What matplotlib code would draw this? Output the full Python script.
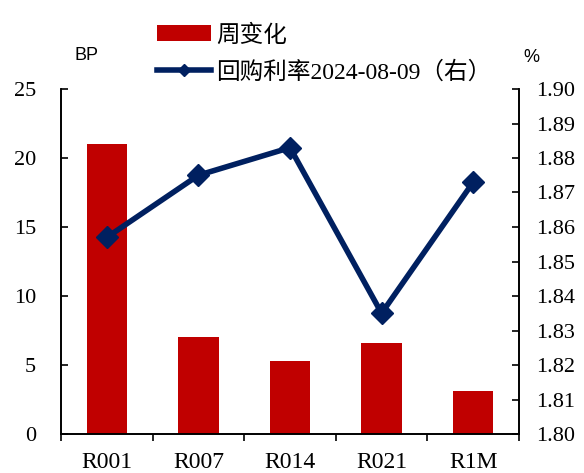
import matplotlib
matplotlib.use("Agg")
import matplotlib.pyplot as plt
import numpy as np

# weekly change in repo rates (BP) and latest fixing (%)
categories = ["R001", "R007", "R014", "R021", "R1M"]
weekly_change = [21.0, 7.0, 5.3, 6.6, 3.1]
repo_rate = [1.857, 1.875, 1.883, 1.835, 1.873]

bar_label = "周变化"
line_label = "回购利率2024-08-09（右）"

RED = "#C00000"
NAVY = "#002060"
SERIF = ["Liberation Serif", "Noto Sans CJK SC"]

plt.rcParams["font.family"] = SERIF

fig = plt.figure(figsize=(5.84, 4.73), dpi=100)
ax = fig.add_axes([61 / 584, 1 - 434 / 473, 458 / 584, 345 / 473])
ax2 = ax.twinx()

x = np.arange(len(categories))
bars = ax.bar(x, weekly_change, width=0.44, color=RED, zorder=1)
line, = ax2.plot(x, repo_rate, color=NAVY, lw=4, marker="D", markersize=11,
                 zorder=3)

ax.set_xlim(-0.5, len(categories) - 0.5)
ax.set_ylim(0, 25)
ax.set_yticks(np.arange(0, 26, 5))
ax2.set_ylim(1.80, 1.90)
ax2.set_yticks(np.round(np.arange(1.80, 1.9001, 0.01), 2))
ax2.set_yticklabels([f"{v:.2f}" for v in np.arange(1.80, 1.9001, 0.01)])

ax.set_xticks(x)
ax.set_xticklabels(categories)
ax.set_xticks(np.arange(-0.5, len(categories)), minor=True)
ax.tick_params(axis="x", which="major", length=0, labelsize=17, pad=13)
ax.tick_params(axis="x", which="minor", length=5, width=1.2, direction="out")
ax.tick_params(axis="y", direction="in", length=5, width=1.2, labelsize=16,
               pad=18)
ax2.tick_params(axis="y", direction="in", length=5, width=1.2, labelsize=16,
                pad=12)

for a in (ax, ax2):
    a.spines["top"].set_visible(False)
    for s in ("left", "right", "bottom"):
        a.spines[s].set_linewidth(1.2)
ax.set_zorder(ax2.get_zorder() - 1)
ax2.patch.set_visible(False)

fig.text(86 / 584, 1 - 55 / 473, "BP", fontsize=13, family="Liberation Sans",
         ha="center", va="center")
fig.text(531 / 584, 1 - 57 / 473, "%", fontsize=13, family="Liberation Sans",
         ha="center", va="center")

fig.legend([bars, line], [bar_label, line_label], loc="upper left",
           bbox_to_anchor=(157 / 584, 1 - 24 / 473), frameon=False,
           fontsize=17, handlelength=2.3, handletextpad=0.2, labelspacing=0.62,
           markerscale=0.6, borderpad=0, borderaxespad=0)

fig.savefig("out.png", dpi=100)
